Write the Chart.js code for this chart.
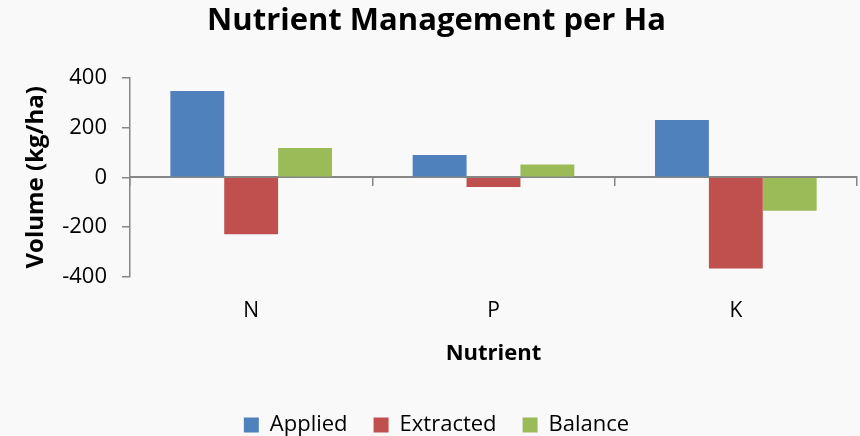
<!DOCTYPE html>
<html>
<head>
<meta charset="utf-8">
<script src="https://cdn.jsdelivr.net/npm/chart.js@4.4.1/dist/chart.umd.min.js"></script>
<style>
  html, body { margin: 0; padding: 0; background: #f9f9f9; }
  #wrap { width: 860px; height: 436px; position: relative; }
</style>
</head>
<body>
<div id="wrap"><canvas id="chart"></canvas></div>
<script>
// Nutrient balance per hectare
var nutrients = ['N', 'P', 'K'];
var applied = [348, 90, 231];
var extracted = [-230, -39, -368];
var balance = [118, 52, -135];
var yTicks = [-400, -200, 0, 200, 400];

var FONT = "'Open Sans', sans-serif";
var AXIS_GREY = '#868686';

Chart.defaults.font.family = FONT;
Chart.defaults.color = '#000';

new Chart(document.getElementById('chart'), {
    type: 'bar',
    data: {
        labels: nutrients,
        datasets: [
            { label: 'Applied', data: applied, backgroundColor: '#4f81bd' },
            { label: 'Extracted', data: extracted, backgroundColor: '#c0504d' },
            { label: 'Balance', data: balance, backgroundColor: '#9bbb59' },
        ],
    },
    options: {
        responsive: true,
        maintainAspectRatio: false,
        animation: false,
        layout: { padding: { left: 16, right: 3, top: 0, bottom: -10 } },
        datasets: {
            bar: { categoryPercentage: 0.667, barPercentage: 1.0 },
        },
        plugins: {
            title: {
                display: true,
                text: 'Nutrient Management per Ha',
                font: { size: 31, weight: 'bold' },
                padding: { top: 3, bottom: 38 },
            },
            legend: {
                position: 'bottom',
                labels: {
                    boxWidth: 15,
                    boxHeight: 15,
                    padding: 26,
                    font: { size: 22 },
                },
            },
            tooltip: { enabled: false },
        },
        scales: {
            x: {
                position: 'bottom',
                grid: { display: false, drawTicks: false },
                border: { display: false },
                ticks: { font: { size: 21 }, padding: 22 },
                title: {
                    display: true,
                    text: 'Nutrient',
                    font: { size: 22, weight: 'bold' },
                    padding: { top: -5, bottom: 21 },
                },
            },
            xZero: {
                type: 'category',
                position: { y: 0 },
                offset: true,
                grid: {
                    offset: true,
                    drawOnChartArea: false,
                    drawTicks: true,
                    tickLength: 8,
                    color: AXIS_GREY,
                    lineWidth: 1.5,
                },
                border: { display: true, color: AXIS_GREY, width: 2 },
                ticks: { callback: function () { return ''; }, font: { size: 1 }, padding: 0 },
            },
            y: {
                min: -400,
                max: 400,
                afterBuildTicks: function (axis) {
                    axis.ticks = yTicks.map(function (v) { return { value: v }; });
                },
                afterFit: function (axis) {
                    axis.width = 114;
                },
                grid: {
                    drawOnChartArea: false,
                    drawTicks: true,
                    tickLength: 8,
                    color: AXIS_GREY,
                    lineWidth: 1.5,
                },
                border: { display: true, color: AXIS_GREY, width: 1.5 },
                ticks: { font: { size: 22 }, padding: 15 },
                title: {
                    display: true,
                    text: 'Volume (kg/ha)',
                    font: { size: 24, weight: 'bold' },
                    padding: { top: 6, bottom: 0 },
                },
            },
        },
    },
});
</script>
</body>
</html>
